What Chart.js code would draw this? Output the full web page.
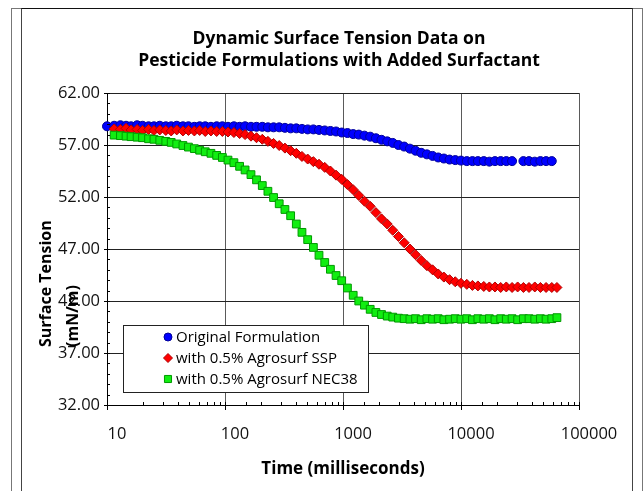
<!DOCTYPE html>
<html>
<head>
<meta charset="utf-8">
<script src="https://cdn.jsdelivr.net/npm/chart.js@4.4.1/dist/chart.umd.min.js"></script>
<style>
  html, body { margin: 0; padding: 0; background: #fff; }
  #wrap { position: relative; width: 644px; height: 491px; overflow: hidden; }
  #chart { position: absolute; left: 0; top: 0; }
  .frame-outer { position: absolute; left: 11px; top: 8px; width: 630px; height: 600px;
    border: 1px solid #777; border-bottom: none; }
  .frame-inner { position: absolute; left: 21px; top: 8px; width: 610px; height: 600px;
    border: 1px solid #444; border-top-color: #111; border-bottom: none; }
</style>
</head>
<body>
<div id="wrap">
  <div class="frame-outer"></div>
  <div class="frame-inner"></div>
  <canvas id="chart" width="644" height="491"></canvas>
</div>
<script>
// time in milliseconds (log axis)
const times = [
  10, 11.5, 13, 14.5, 16, 18, 20, 22.5, 25, 28,
  31.5, 35, 39, 44, 49, 55, 61, 68, 76, 85,
  95, 106, 119, 133, 148, 166, 185, 207, 231, 258,
  288, 322, 360, 402, 449, 502, 561, 626, 700, 782,
  873, 975, 1090, 1220, 1360, 1520, 1700, 1900, 2120, 2370,
  2640, 2950, 3300, 3690, 4120, 4600, 5140, 5740, 6410, 7160,
  8000, 8940, 9990, 11200, 12500, 13900, 15600, 17400, 19400, 21700,
  24200, 27100, 30200, 33800, 37700, 42200, 47100, 52600, 58800, 65000
];

// surface tension, mN/m
const originalVals = [
  58.8, 58.85, 58.9, 58.85, 58.8, 58.9, 58.85, 58.8, 58.8, 58.85,
  58.8, 58.8, 58.85, 58.8, 58.8, 58.75, 58.8, 58.8, 58.75, 58.8,
  58.8, 58.75, 58.8, 58.75, 58.8, 58.75, 58.75, 58.75, 58.7, 58.7,
  58.7, 58.65, 58.6, 58.6, 58.55, 58.5, 58.5, 58.45, 58.4, 58.35,
  58.3, 58.2, 58.15, 58.05, 58.0, 57.9, 57.8, 57.65, 57.5, 57.35,
  57.2, 57.0, 56.85, 56.65, 56.45, 56.25, 56.1, 55.95, 55.8, 55.7,
  55.6, 55.55, 55.5, 55.45, 55.45, 55.45, 55.45, 55.4, 55.45, 55.45,
  55.45, 55.45, null, 55.45, 55.45, 55.4, 55.45, 55.45, 55.45, null
];

const sspVals = [
  null, 58.55, 58.5, 58.6, 58.45, 58.5, 58.4, 58.5, 58.4, 58.45,
  58.4, 58.35, 58.45, 58.35, 58.4, 58.35, 58.4, 58.3, 58.35, 58.3,
  58.3, 58.25, 58.2, 58.1, 58.0, 57.85, 57.7, 57.55, 57.35, 57.15,
  56.95, 56.7, 56.45, 56.2, 55.9, 55.65, 55.4, 55.15, 54.85, 54.5,
  54.1, 53.7, 53.2, 52.7, 52.15, 51.6, 51.1, 50.5, 49.9, 49.4,
  48.8, 48.2, 47.6, 47.0, 46.45, 45.9, 45.4, 45.0, 44.6, 44.3,
  44.05, 43.85, 43.7, 43.6, 43.5, 43.45, 43.4, 43.35, 43.35, 43.3,
  43.35, 43.3, 43.35, 43.3, 43.3, 43.35, 43.3, 43.3, 43.3, 43.3
];

const nec38Vals = [
  null, 57.95, 57.9, 57.85, 57.8, 57.75, 57.7, 57.6, 57.55, 57.45,
  57.35, 57.25, 57.1, 56.95, 56.8, 56.65, 56.5, 56.35, 56.2, 56.0,
  55.8, 55.55, 55.3, 54.95, 54.6, 54.15, 53.65, 53.1, 52.55, 51.95,
  51.35, 50.8, 50.2, 49.4, 48.6, 47.9, 47.15, 46.4, 45.7, 45.05,
  44.45, 43.95, 43.25, 42.55, 42.0, 41.6, 41.2, 40.9, 40.7, 40.55,
  40.45, 40.35, 40.3, 40.25, 40.3, 40.2, 40.3, 40.25, 40.3, 40.2,
  40.25, 40.3, 40.25, 40.3, 40.2, 40.3, 40.25, 40.3, 40.2, 40.3,
  40.25, 40.3, 40.2, 40.3, 40.3, 40.25, 40.3, 40.25, 40.3, 40.4
];

const seriesNames = ['Original Formulation', 'with 0.5% Agrosurf SSP', 'with 0.5% Agrosurf NEC38'];
const titleLines = ['Dynamic Surface Tension Data on', 'Pesticide Formulations with Added Surfactant'];
const xTitle = 'Time (milliseconds)';
const yTitleLines = ['Surface Tension', '(mN/m)'];
const xDecades = [10, 100, 1000, 10000, 100000];
const yMajors = [32, 37, 42, 47, 52, 57, 62];

const FONT = "'Open Sans', 'DejaVu Sans', sans-serif";

function toPoints(vals) {
  const pts = [];
  vals.forEach((v, i) => { if (v != null) pts.push({ x: times[i], y: v }); });
  return pts;
}

// short tick marks: minor inside the plot, major crossing the axis
const tickMarks = {
  id: 'tickMarks',
  afterDatasetsDraw(chart) {
    const { ctx, chartArea: a, scales: { x, y } } = chart;
    ctx.save();
    ctx.strokeStyle = '#000';
    ctx.lineWidth = 1;
    ctx.beginPath();
    x.ticks.forEach(t => {
      const px = Math.round(x.getPixelForValue(t.value)) + 0.5;
      const major = xDecades.includes(t.value);
      ctx.moveTo(px, a.bottom - 3);
      ctx.lineTo(px, a.bottom + (major ? 5 : 0));
    });
    y.ticks.forEach(t => {
      const py = Math.round(y.getPixelForValue(t.value)) + 0.5;
      const major = yMajors.includes(t.value);
      ctx.moveTo(a.left - (major ? 3 : 0), py);
      ctx.lineTo(a.left + 3, py);
    });
    ctx.stroke();
    ctx.restore();
  }
};

// chart title, y title and in-plot legend box
const overlay = {
  id: 'overlay',
  afterDraw(chart) {
    const ctx = chart.ctx;
    ctx.save();
    ctx.fillStyle = '#000';
    ctx.textAlign = 'center';
    ctx.textBaseline = 'middle';
    ctx.font = 'bold 17.5px ' + FONT;
    titleLines.forEach((line, i) => ctx.fillText(line, 339, 39 + i * 22));
    ctx.restore();

    ctx.save();
    ctx.fillStyle = '#000';
    ctx.font = 'bold 16px ' + FONT;
    ctx.textAlign = 'left';
    ctx.textBaseline = 'middle';
    ctx.translate(46, 347);
    ctx.rotate(-Math.PI / 2);
    ctx.fillText(yTitleLines[0], 0, 0);
    ctx.fillText(yTitleLines[1], 0, 27);
    ctx.restore();

    // legend
    const box = { x: 123.5, y: 325.5, w: 245, h: 67 };
    ctx.save();
    ctx.fillStyle = '#fff';
    ctx.strokeStyle = '#222';
    ctx.lineWidth = 1;
    ctx.fillRect(box.x, box.y, box.w, box.h);
    ctx.strokeRect(box.x, box.y, box.w, box.h);
    ctx.font = '15px ' + FONT;
    ctx.textBaseline = 'middle';
    ctx.textAlign = 'left';
    chart.data.datasets.forEach((ds, i) => {
      const cy = 337 + i * 21;
      ctx.fillStyle = ds.backgroundColor;
      ctx.strokeStyle = ds.borderColor;
      ctx.lineWidth = 1;
      Chart.helpers.drawPoint(ctx, {
        pointStyle: ds.pointStyle, radius: ds.pointRadius - 0.5, rotation: 0, borderWidth: 1
      }, 168, cy);
      ctx.fillStyle = '#000';
      ctx.fillText(ds.label, 176, cy + 1);
    });
    ctx.restore();
  }
};

new Chart(document.getElementById('chart'), {
  type: 'scatter',
  data: {
    datasets: [
      {
        label: seriesNames[0],
        data: toPoints(originalVals),
        pointStyle: 'circle',
        pointRadius: 4.5,
        backgroundColor: '#0000ff',
        borderColor: '#000099',
        borderWidth: 1,
        order: 3,
      },
      {
        label: seriesNames[1],
        data: toPoints(sspVals),
        pointStyle: 'rectRot',
        pointRadius: 5,
        backgroundColor: '#ff0000',
        borderColor: '#b00000',
        borderWidth: 1,
        order: 2,
      },
      {
        label: seriesNames[2],
        data: toPoints(nec38Vals),
        pointStyle: 'rect',
        pointRadius: 5.5,
        backgroundColor: '#11ee11',
        borderColor: '#009900',
        borderWidth: 1,
        order: 1,
      },
    ],
  },
  options: {
    responsive: false,
    animation: false,
    clip: false,
    layout: { padding: { left: 0, right: 65, top: 93, bottom: 0 } },
    plugins: {
      legend: { display: false },
      tooltip: { enabled: false },
      title: { display: false },
    },
    scales: {
      x: {
        type: 'logarithmic',
        min: 10,
        max: 100000,
        afterFit: (s) => { s.height = 86; },
        border: { color: '#000', width: 1 },
        grid: {
          drawTicks: false,
          color: (c) => (c.tick && xDecades.includes(c.tick.value)) ? '#5a5a5a' : 'rgba(0,0,0,0)',
        },
        ticks: {
          autoSkip: false,
          maxRotation: 0,
          padding: 19,
          labelOffset: 10,
          color: '#111',
          font: { family: FONT, size: 16.5 },
          callback: (v) => xDecades.includes(v) ? String(v) : '',
        },
        title: {
          display: true,
          text: xTitle,
          color: '#000',
          font: { family: FONT, size: 17, weight: 'bold' },
          padding: { top: 0, bottom: 12 },
        },
      },
      y: {
        min: 32,
        max: 62,
        afterFit: (s) => { s.width = 107; },
        border: { color: '#000', width: 1 },
        grid: {
          drawTicks: false,
          color: (c) => (c.tick && yMajors.includes(c.tick.value)) ? '#222' : 'rgba(0,0,0,0)',
        },
        ticks: {
          stepSize: 1,
          autoSkip: false,
          padding: 7,
          color: '#111',
          font: { family: FONT, size: 16.5 },
          callback: (v) => yMajors.includes(v) ? v.toFixed(2) : '',
        },
      },
    },
  },
  plugins: [tickMarks, overlay],
});
</script>
</body>
</html>
